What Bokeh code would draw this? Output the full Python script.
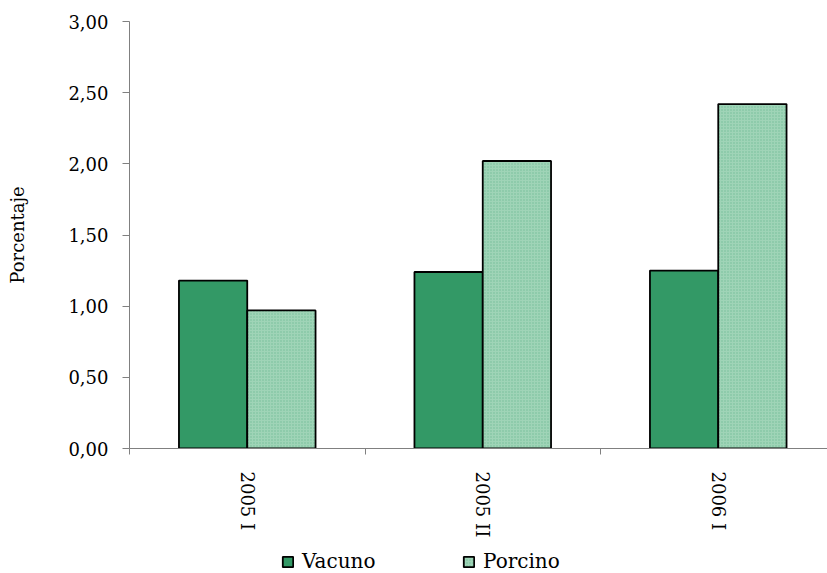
from bokeh.plotting import figure
from bokeh.layouts import column
from bokeh.models import Range1d, FixedTicker, Legend, LegendItem, ColumnDataSource
from bokeh.embed import file_html
from bokeh.resources import INLINE

# ---- data ----
periods = ["2005 I", "2005 II", "2006 I"]
vacuno = [1.18, 1.24, 1.25]
porcino = [0.97, 2.02, 2.42]
y_ticks = [0.0, 0.5, 1.0, 1.5, 2.0, 2.5, 3.0]
y_tick_labels = ["0,00", "0,50", "1,00", "1,50", "2,00", "2,50", "3,00"]
series_names = ["Vacuno", "Porcino"]

FONT = "DejaVu Serif"
FIG_W, FIG_H = 827, 540
LEG_H = 33
BORDER_L, BORDER_T, BORDER_B = 129, 21, 91
CAT_PX = 235.5
x_end = (FIG_W - BORDER_L) / CAT_PX
BAR_W = 0.29

V_STYLE = dict(fill_color="#339966", line_color="black", line_width=1.8)
P_STYLE = dict(fill_color="#9fd4b7", line_color="black", line_width=1.8,
               hatch_pattern="dot", hatch_color="#74be98", hatch_scale=3, hatch_weight=1)

centers = [i + 0.5 for i in range(len(periods))]
src_v = ColumnDataSource(dict(x=[c - BAR_W / 2 for c in centers], top=vacuno))
src_p = ColumnDataSource(dict(x=[c + BAR_W / 2 for c in centers], top=porcino))

p = figure(width=FIG_W, height=FIG_H, x_range=Range1d(0, x_end), y_range=Range1d(0, 3),
           output_backend="svg", toolbar_location=None,
           min_border_left=BORDER_L, min_border_right=0,
           min_border_top=BORDER_T, min_border_bottom=BORDER_B)
p.outline_line_color = None
p.xgrid.visible = False
p.ygrid.visible = False

p.vbar(x="x", top="top", width=BAR_W, bottom=0, source=src_v, **V_STYLE)
p.vbar(x="x", top="top", width=BAR_W, bottom=0, source=src_p, **P_STYLE)

# y axis
ya = p.yaxis[0]
ya.ticker = FixedTicker(ticks=y_ticks)
ya.major_label_overrides = dict(zip(y_ticks, y_tick_labels))
ya.minor_tick_line_color = None
ya.major_tick_out = 7
ya.major_tick_in = 0
ya.axis_line_color = "#808080"
ya.major_tick_line_color = "#808080"
ya.major_label_text_font = FONT
ya.major_label_text_font_size = "18px"
ya.major_label_text_color = "black"
ya.major_label_standoff = 14
ya.axis_label = "Porcentaje"
ya.axis_label_text_font = FONT
ya.axis_label_text_font_size = "18px"
ya.axis_label_text_font_style = "normal"
ya.axis_label_text_color = "black"
ya.axis_label_standoff = 37

# x axis
xa = p.xaxis[0]
xa.ticker = FixedTicker(ticks=centers, minor_ticks=[0, 1, 2])
xa.major_label_overrides = dict(zip(centers, periods))
xa.major_tick_out = 0
xa.major_tick_in = 0
xa.minor_tick_out = 6
xa.minor_tick_in = 0
xa.minor_tick_line_color = "#808080"
xa.axis_line_color = "#808080"
xa.major_label_orientation = "vertical"
xa.major_label_text_font = FONT
xa.major_label_text_font_size = "18px"
xa.major_label_text_color = "black"
xa.major_label_standoff = 17

# legend strip below the chart (its frame is aligned with the chart frame)
pl = figure(width=FIG_W, height=LEG_H, x_range=Range1d(0, x_end), y_range=Range1d(0, 1),
            output_backend="svg", toolbar_location=None,
            x_axis_location=None, y_axis_location=None, min_border=0)
pl.outline_line_color = None
pl.xgrid.visible = False
pl.ygrid.visible = False
# swatch-only renderers (a single undrawable NaN row so the legend can draw its swatch)
nan = float("nan")
lv = pl.vbar(x=[nan], top=[nan], width=BAR_W, bottom=0, **V_STYLE)
lp = pl.vbar(x=[nan], top=[nan], width=BAR_W, bottom=0, **P_STYLE)
legend = Legend(items=[LegendItem(label=series_names[0], renderers=[lv]),
                       LegendItem(label=series_names[1], renderers=[lp])],
                orientation="horizontal", location=(152, 0),
                label_text_font=FONT, label_text_font_size="20px",
                label_text_color="black", glyph_width=13, glyph_height=13,
                label_standoff=8, label_width=78, spacing=82, padding=0, margin=0,
                border_line_color=None, background_fill_alpha=0)
pl.add_layout(legend)

layout = column(p, pl, spacing=0)
open("out.html", "w").write(file_html(layout, INLINE))
